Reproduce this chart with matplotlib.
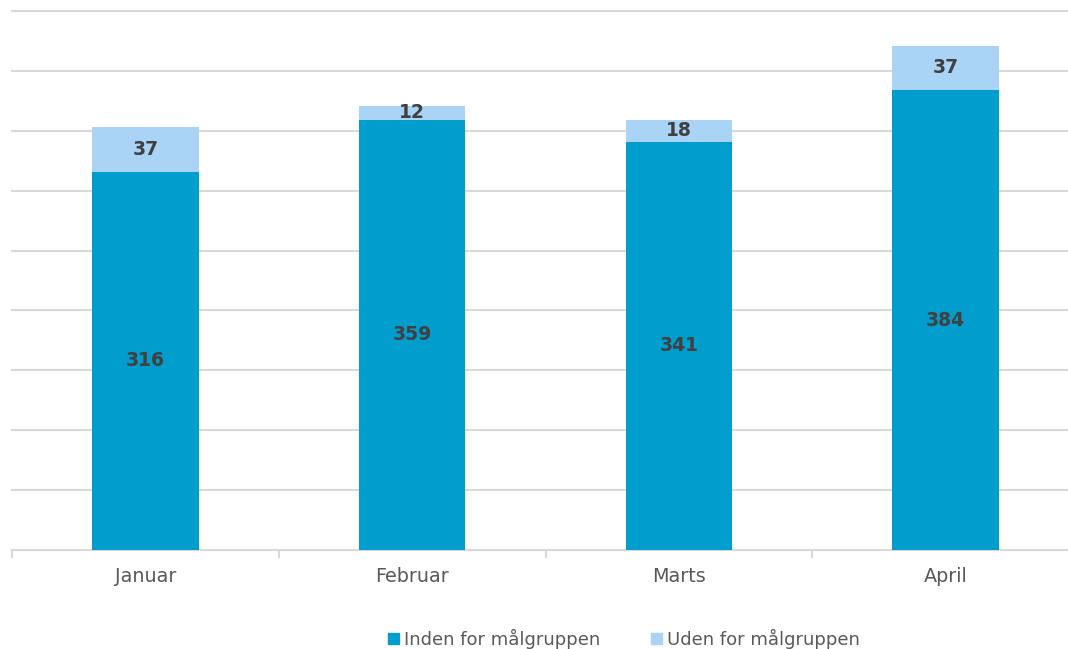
import matplotlib
matplotlib.use("Agg")
import matplotlib.pyplot as plt
from matplotlib.patches import Patch
import numpy as np

plt.rcParams["font.family"] = ["DejaVu Sans"]

months = ["Januar", "Februar", "Marts", "April"]
inden = [316, 359, 341, 384]
uden = [37, 12, 18, 37]
series_names = ["Inden for målgruppen", "Uden for målgruppen"]

c_dark = "#009DCD"
c_light = "#A9D4F5"
grid_c = "#D9D9D9"

fig = plt.figure(figsize=(10.68, 6.49), dpi=100)
ax = fig.add_axes([12/1068, 99/649, 1067/1068, 539/649])
x = np.arange(len(months))
w = 0.4
ax.bar(x, inden, w, color=c_dark, zorder=3)
ax.bar(x, uden, w, bottom=inden, color=c_light, zorder=3)

for xi, a, b in zip(x, inden, uden):
    ax.text(xi, a / 2, str(a), ha="center", va="center", fontsize=13.5,
            fontweight="bold", color="#404040", zorder=4)
    ax.text(xi, a + b / 2, str(b), ha="center", va="center", fontsize=13.5,
            fontweight="bold", color="#404040", zorder=4)

ax.set_xlim(-0.5, 3.5)
ax.set_ylim(0, 450)
ax.set_yticks(np.arange(50, 451, 50))
ax.yaxis.grid(True, color=grid_c, linewidth=1.5, zorder=0)
for gl in ax.get_ygridlines():
    gl.set_clip_on(False)
ax.tick_params(axis="y", length=0, labelleft=False)
for s in ["top", "right", "left"]:
    ax.spines[s].set_visible(False)
ax.spines["bottom"].set_color(grid_c)
ax.spines["bottom"].set_linewidth(1.5)
ax.set_xticks(x)
ax.set_xticklabels(months, fontsize=13.8, color="#595959")
ax.tick_params(axis="x", which="major", length=0, pad=12)
ax.set_xticks(np.arange(-0.5, 4, 1), minor=True)
ax.tick_params(axis="x", which="minor", length=6, width=1.5, color=grid_c)

handles = [Patch(color=c_dark), Patch(color=c_light)]
leg = fig.legend(handles, series_names, loc="center", bbox_to_anchor=(624/1068, 1 - 639/649),
                 ncol=2, frameon=False, fontsize=13, handlelength=0.6, handleheight=0.6,
                 handletextpad=0.3, columnspacing=2.8, labelcolor="#595959")
fig.savefig("out.png", dpi=100)
